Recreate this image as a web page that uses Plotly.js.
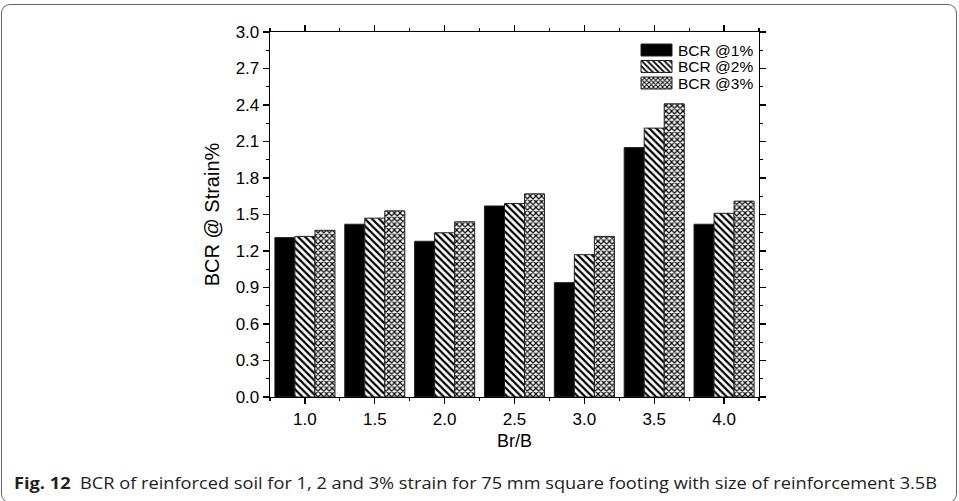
<!DOCTYPE html>
<html>
<head>
<meta charset="utf-8">
<script src="https://cdn.plot.ly/plotly-3.0.1.min.js"></script>
<style>
  html, body { margin: 0; padding: 0; background: #fff; }
  #wrap { position: relative; width: 959px; height: 501px; overflow: hidden; }
  #frame { position: absolute; left: 1px; top: 4px; width: 954px; height: 497px; border: 1.5px solid #666; border-radius: 9px; box-sizing: content-box; pointer-events: none; }
  #chart { position: absolute; left: 0; top: 0; width: 959px; height: 501px; }
  #caption { position: absolute; left: 14px; top: 472px; font-family: "Open Sans", "Noto Sans", sans-serif; font-size: 16px; color: #222; white-space: nowrap; transform-origin: left top; display: inline-block; line-height: 22px; }
  #caption b { font-weight: bold; }
</style>
</head>
<body>
<div id="wrap">
  <div id="chart"></div>
  <div id="frame"></div>
  <div id="caption"><b>Fig. 12</b>&nbsp; BCR of reinforced soil for 1, 2 and 3% strain for 75 mm square footing with size of reinforcement 3.5B</div>
</div>
<script>
const ratios = [1.0, 1.5, 2.0, 2.5, 3.0, 3.5, 4.0];
const bcr1 = [1.31, 1.42, 1.28, 1.57, 0.94, 2.05, 1.42];
const bcr2 = [1.32, 1.47, 1.35, 1.59, 1.17, 2.21, 1.51];
const bcr3 = [1.37, 1.53, 1.44, 1.67, 1.32, 2.41, 1.61];
const seriesNames = ["BCR @1%", "BCR @2%", "BCR @3%"];

const F = "Liberation Sans, Arial, sans-serif";
const lineStyle = {color: "#222", width: 1};

const traces = [
  {type: "bar", name: seriesNames[0], x: ratios, y: bcr1,
   marker: {color: "#000", line: lineStyle}},
  {type: "bar", name: seriesNames[1], x: ratios, y: bcr2,
   marker: {color: "#fff", line: lineStyle,
     pattern: {shape: "\\", fgcolor: "#000", bgcolor: "#fff", size: 5, solidity: 0.45}}},
  {type: "bar", name: seriesNames[2], x: ratios, y: bcr3,
   marker: {color: "#fff", line: lineStyle,
     pattern: {shape: "x", fgcolor: "#000", bgcolor: "#fff", size: 4, solidity: 0.5}}}
];

const layout = {
  width: 959, height: 501,
  margin: {l: 270, r: 200, t: 32, b: 104},
  paper_bgcolor: "rgba(0,0,0,0)", plot_bgcolor: "#fff",
  barmode: "group", bargap: 0.14, bargroupgap: 0,
  font: {family: F, size: 17, color: "#000"},
  showlegend: true,
  legend: {x: 1, xanchor: "right", y: 1, yanchor: "top", bgcolor: "rgba(0,0,0,0)",
           font: {family: F, size: 15.5, color: "#000"}, traceorder: "normal",
           tracegroupgap: 0, itemwidth: 30},
  xaxis: {
    range: [0.75, 4.25], tick0: 1, dtick: 0.5, tickformat: ".1f",
    showline: true, linecolor: "#000", linewidth: 1.3, mirror: "ticks",
    ticks: "outside", ticklen: 6, tickwidth: 1.2, tickcolor: "#000",
    minor: {dtick: 0.25, tick0: 1, ticks: "outside", ticklen: 3, tickwidth: 1.2, tickcolor: "#000"},
    showgrid: false, zeroline: false,
    tickfont: {family: F, size: 17},
    title: {text: "Br/B", font: {family: F, size: 18}, standoff: 6}
  },
  yaxis: {
    range: [0, 3], tick0: 0, dtick: 0.3, tickformat: ".1f",
    showline: true, linecolor: "#000", linewidth: 1.3, mirror: "ticks",
    ticks: "outside", ticklen: 6, tickwidth: 1.2, tickcolor: "#000",
    minor: {dtick: 0.15, tick0: 0, ticks: "outside", ticklen: 3, tickwidth: 1.2, tickcolor: "#000"},
    showgrid: false, zeroline: false,
    tickfont: {family: F, size: 17},
    title: {text: "BCR @ Strain%", font: {family: F, size: 20}, standoff: 10}
  }
};

function parseT(el) {
  const t = el.getAttribute("transform") || "";
  const m = t.match(/translate\(\s*([-\d.e]+)[ ,]+([-\d.e]+)\s*\)/);
  return m ? [parseFloat(m[1]), parseFloat(m[2])] : [0, 0];
}

Plotly.newPlot("chart", traces, layout, {staticPlot: true, displayModeBar: false}).then(function (gd) {
  // compact legend: rows 16.5px apart
  const leg = gd.querySelector(".legend");
  const items = leg.querySelectorAll(".traces");
  const y0 = parseT(items[0])[1];
  items.forEach(function (it, i) {
    const t = parseT(it);
    it.setAttribute("transform", "translate(" + t[0] + "," + (y0 + 16.5 * i) + ")");
  });
  // move legend so first label starts at x=678, centred at y=50
  const lt = parseT(leg);
  const r = items[0].querySelector(".legendtext").getBoundingClientRect();
  const dx = 678 - r.left, dy = 50 - (r.top + r.height / 2);
  leg.setAttribute("transform", "translate(" + (lt[0] + dx) + "," + (lt[1] + dy) + ")");
  // long rectangular swatches ending 6px left of the label
  items.forEach(function (it) {
    const tr = it.querySelector(".legendtext").getBoundingClientRect();
    it.querySelectorAll(".legendpoints path").forEach(function (p) {
      p.setAttribute("d", "M15.5,6H-15.5V-6H15.5Z");
      const pr = p.getBoundingClientRect();
      const shift = (tr.left - 6) - pr.right;
      const pcy = pr.top + pr.height / 2, tcy = tr.top + tr.height / 2;
      const right = 15.5 + shift, left = -15.5 + shift;
      const vs = tcy - pcy;
      p.setAttribute("d", "M" + right + "," + (6 + vs) + "H" + left + "V" + (-6 + vs) + "H" + right + "Z");
    });
  });

  // fit caption to the reference width
  const cap = document.getElementById("caption");
  const w = cap.getBoundingClientRect().width;
  cap.style.transform = "scaleX(" + (923 / w) + ")";
});
</script>
</body>
</html>
